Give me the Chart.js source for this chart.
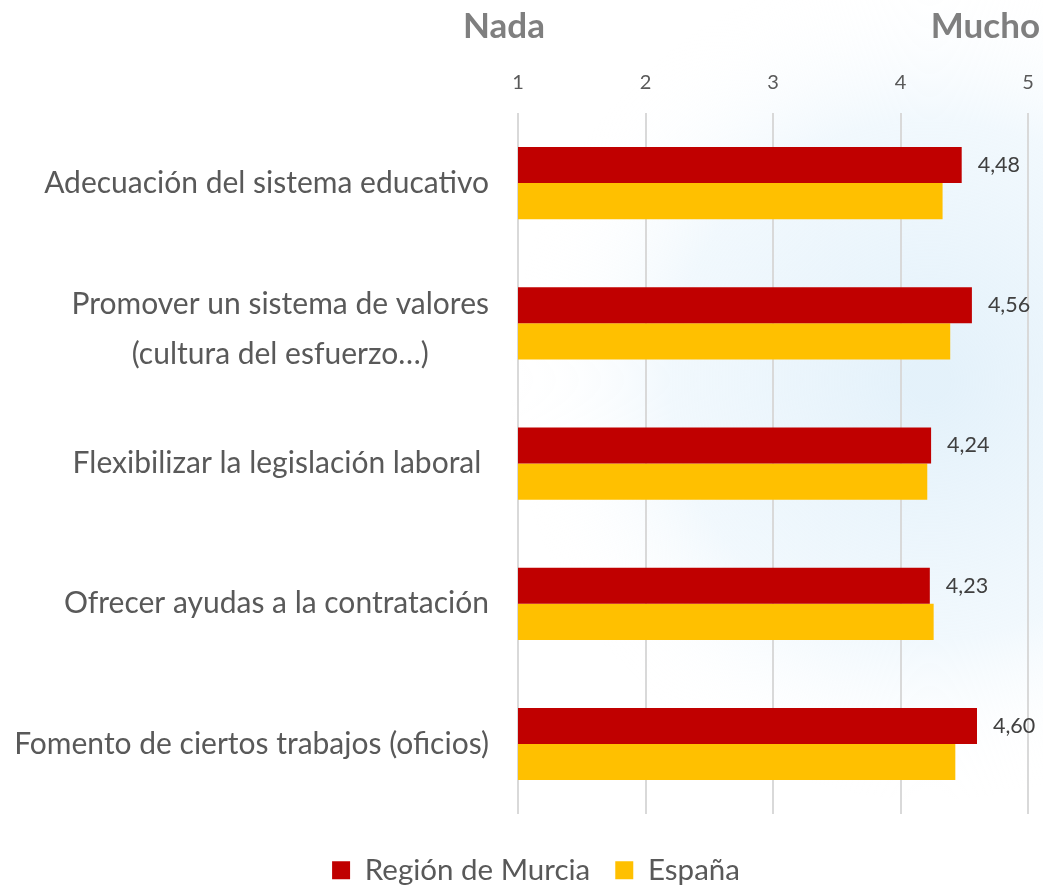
<!DOCTYPE html>
<html lang="es">
<head>
<meta charset="UTF-8">
<title>Medidas para el empleo</title>
<script src="https://cdn.jsdelivr.net/npm/chart.js"></script>
<style>
  html, body { margin: 0; padding: 0; background: #fff; }
</style>
</head>
<body>
<canvas id="grafico" width="1043" height="885"></canvas>
<script>
// datos
const categorias = [
  ["Adecuación del sistema educativo"],
  ["Promover un sistema de valores", "(cultura del esfuerzo…)"],
  ["Flexibilizar la legislación laboral "],
  ["Ofrecer ayudas a la contratación"],
  ["Fomento de ciertos trabajos (oficios)"]
];
const murcia = [4.48, 4.56, 4.24, 4.23, 4.60];
const espana = [4.33, 4.39, 4.21, 4.26, 4.43];
const ticksX = [1, 2, 3, 4, 5];
const extremos = ["Nada", "Mucho"];

const FUENTE = "Lato, 'Open Sans', sans-serif";
const GRIS = "#595959";
const IZQ = 44; // margen izquierdo (solo desplaza la leyenda)

// fondo azulado muy suave, como la marca de agua del original
const fondo = {
  id: "fondo",
  beforeDraw(chart) {
    const ctx = chart.ctx;
    ctx.save();
    const g = ctx.createRadialGradient(930, 380, 20, 930, 380, 420);
    g.addColorStop(0, "rgba(225,240,250,0.9)");
    g.addColorStop(0.6, "rgba(232,244,252,0.6)");
    g.addColorStop(1, "rgba(255,255,255,0)");
    ctx.fillStyle = g;
    ctx.fillRect(0, 0, chart.width, chart.height);
    ctx.restore();
  }
};

// etiquetas de categoría (centradas entre sí, alineadas a la derecha)
const etiquetasY = {
  id: "etiquetasY",
  afterDraw(chart) {
    const ctx = chart.ctx;
    const y = chart.scales.y;
    ctx.save();
    ctx.font = "30px " + FUENTE;
    ctx.fillStyle = GRIS;
    ctx.textAlign = "center";
    ctx.textBaseline = "middle";
    categorias.forEach((lineas, i) => {
      const py = y.getPixelForValue(i);
      const ancho = Math.max(...lineas.map(l => ctx.measureText(l).width));
      const cx = 489 - ancho / 2;
      lineas.forEach((l, j) => {
        ctx.fillText(l, cx, py + (j - (lineas.length - 1) / 2) * 50 + 6 * (lineas.length - 1));
      });
    });
    ctx.restore();
  }
};

// valores de la Región de Murcia junto a las barras
const valores = {
  id: "valores",
  afterDatasetsDraw(chart) {
    const ctx = chart.ctx;
    const meta = chart.getDatasetMeta(0);
    ctx.save();
    ctx.font = "21.5px " + FUENTE;
    ctx.fillStyle = "#404040";
    ctx.textAlign = "left";
    ctx.textBaseline = "middle";
    meta.data.forEach((bar, i) => {
      ctx.fillText(murcia[i].toFixed(2).replace(".", ","), bar.x + 16, bar.y);
    });
    ctx.restore();
  }
};

// "Nada" y "Mucho" encima del eje
const extremosPlugin = {
  id: "extremos",
  afterDraw(chart) {
    const ctx = chart.ctx;
    const x = chart.scales.x;
    ctx.save();
    ctx.font = "bold 35px " + FUENTE;
    ctx.fillStyle = "#7f7f7f";
    ctx.textBaseline = "middle";
    ctx.textAlign = "center";
    ctx.fillText(extremos[0], x.getPixelForValue(ticksX[0]) - 14, 27);
    ctx.textAlign = "right";
    ctx.fillText(extremos[1], chart.width - 3, 27);
    ctx.restore();
  }
};

new Chart(document.getElementById("grafico"), {
  type: "bar",
  data: {
    labels: categorias,
    datasets: [
      { label: "Región de Murcia", data: murcia, backgroundColor: "#C00000" },
      { label: "España", data: espana, backgroundColor: "#FFC000" }
    ]
  },
  options: {
    indexAxis: "y",
    responsive: false,
    animation: false,
    layout: { padding: { top: 53, right: 15, bottom: -10, left: IZQ } },
    datasets: { bar: { barPercentage: 1, categoryPercentage: 0.515 } },
    scales: {
      x: {
        position: "top",
        min: 1,
        max: 5,
        afterBuildTicks: s => { s.ticks = ticksX.map(v => ({ value: v })); },
        afterFit: s => { s.paddingLeft = 0; s.paddingRight = 0; },
        ticks: { color: GRIS, font: { size: 20, family: FUENTE }, padding: 18 },
        grid: { color: "#d9d9d9", lineWidth: 2, drawTicks: false },
        border: { display: false }
      },
      y: {
        ticks: { display: false },
        grid: { display: false },
        border: { display: false },
        afterFit: s => { s.width = 518 - IZQ; }
      }
    },
    plugins: {
      tooltip: { enabled: false },
      legend: {
        position: "bottom",
        title: { display: true, text: "", padding: { top: 2, bottom: 0 }, font: { size: 12 } },
        labels: {
          color: GRIS,
          font: { size: 29.5, family: FUENTE },
          boxWidth: 18,
          boxHeight: 18,
          padding: 25
        }
      }
    }
  },
  plugins: [fondo, etiquetasY, valores, extremosPlugin]
});
</script>
</body>
</html>
